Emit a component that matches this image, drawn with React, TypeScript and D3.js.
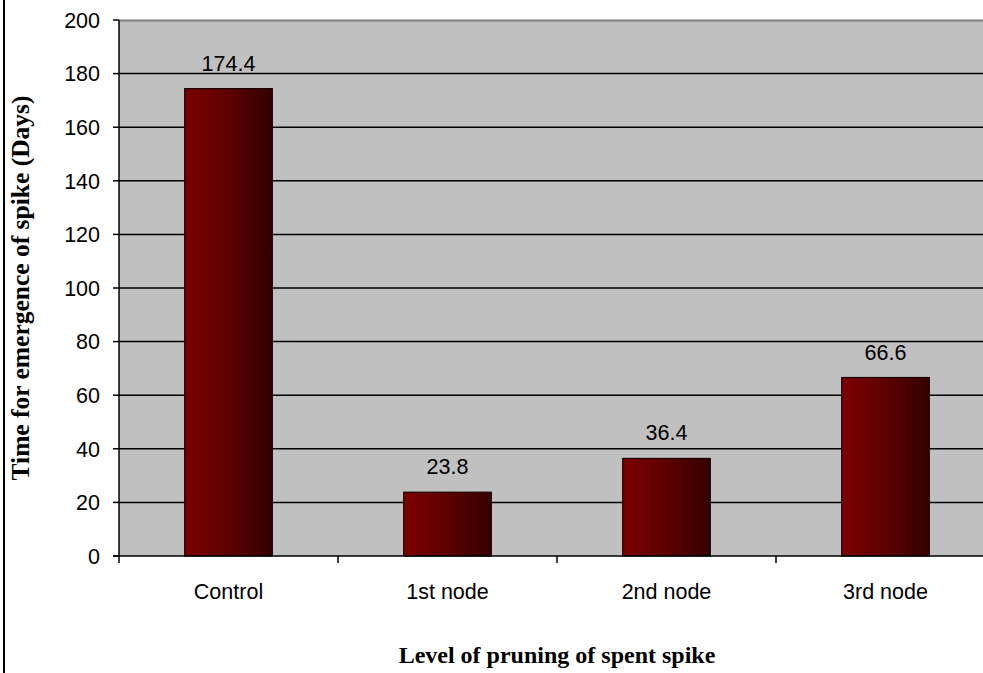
import React from "react";
import * as d3 from "d3";

const categories = ["Control", "1st node", "2nd node", "3rd node"];
const values = [174.4, 23.8, 36.4, 66.6];
const yTicks = [0, 20, 40, 60, 80, 100, 120, 140, 160, 180, 200];
const yTitle = "Time for emergence of spike (Days)";
const xTitle = "Level of pruning of spent spike";

const W = 983;
const H = 673;
const plot = { left: 119, right: 995, top: 20, bottom: 556 };

export default function App() {
  const x = d3
    .scaleBand<string>()
    .domain(categories)
    .range([plot.left, plot.right])
    .paddingInner(0.6)
    .paddingOuter(0.3);
  const band = d3.scaleBand<string>().domain(categories).range([plot.left, plot.right]);
  const y = d3.scaleLinear().domain([0, 200]).range([plot.bottom, plot.top]);

  const sans = "Arial, 'Liberation Sans', sans-serif";
  const serif = "'Times New Roman', 'Liberation Serif', serif";
  const plotMidX = (plot.left + plot.right) / 2;
  const plotMidY = (plot.top + plot.bottom) / 2;

  return (
    <svg
      width={W}
      height={H}
      style={{ position: "absolute", left: 0, top: 0, background: "#fff" }}
    >
      <defs>
        <linearGradient id="barFill" x1="0" x2="1" y1="0" y2="0">
          <stop offset="0" stopColor="#7c0000" />
          <stop offset="0.5" stopColor="#5e0000" />
          <stop offset="1" stopColor="#340000" />
        </linearGradient>
      </defs>

      {/* outer frame edge */}
      <line x1={4} x2={4} y1={0} y2={H} stroke="#000" strokeWidth={2} />

      {/* plot background */}
      <rect
        x={plot.left}
        y={plot.top}
        width={plot.right - plot.left}
        height={plot.bottom - plot.top}
        fill="#c0c0c0"
      />
      <line x1={plot.left} x2={plot.right} y1={plot.top + 0.5} y2={plot.top + 0.5} stroke="#808080" strokeWidth={2} />

      {/* gridlines */}
      {yTicks
        .filter((t) => t > 0 && t < 200)
        .map((t) => (
          <line key={t} x1={plot.left} x2={plot.right} y1={y(t)} y2={y(t)} stroke="#000" strokeWidth={1.5} />
        ))}

      {/* bars */}
      {categories.map((c, i) => (
        <g key={c}>
          <rect
            x={x(c)}
            y={y(values[i])}
            width={x.bandwidth()}
            height={y(0) - y(values[i])}
            fill="url(#barFill)"
            stroke="#1a0000"
            strokeWidth={1.2}
          />
          <text
            x={(x(c) as number) + x.bandwidth() / 2}
            y={y(values[i]) - 18}
            textAnchor="middle"
            fontFamily={sans}
            fontSize={21.5}
            fill="#000"
          >
            {values[i].toFixed(1)}
          </text>
        </g>
      ))}

      {/* axes */}
      <line x1={plot.left} x2={plot.left} y1={plot.top} y2={plot.bottom} stroke="#000" strokeWidth={1.5} />
      <line x1={plot.left - 6} x2={plot.right} y1={plot.bottom} y2={plot.bottom} stroke="#000" strokeWidth={1.5} />
      {yTicks.map((t) => (
        <g key={t}>
          <line x1={plot.left - 6} x2={plot.left} y1={y(t)} y2={y(t)} stroke="#000" strokeWidth={1.5} />
          <text
            x={100}
            y={y(t)}
            dy="0.36em"
            textAnchor="end"
            fontFamily={sans}
            fontSize={21.5}
            fill="#000"
          >
            {t}
          </text>
        </g>
      ))}
      {categories.map((c) => (
        <line
          key={c}
          x1={band(c)}
          x2={band(c)}
          y1={plot.bottom}
          y2={plot.bottom + 7}
          stroke="#000"
          strokeWidth={1.5}
        />
      ))}
      {categories.map((c) => (
        <text
          key={c}
          x={(band(c) as number) + band.bandwidth() / 2}
          y={599}
          textAnchor="middle"
          fontFamily={sans}
          fontSize={21.5}
          fill="#000"
        >
          {c}
        </text>
      ))}

      {/* axis titles */}
      <text
        x={plotMidX}
        y={663}
        textAnchor="middle"
        fontFamily={serif}
        fontWeight="bold"
        fontSize={24}
        fill="#000"
      >
        {xTitle}
      </text>
      <text
        transform={`translate(29, ${plotMidY}) rotate(-90)`}
        textAnchor="middle"
        fontFamily={serif}
        fontWeight="bold"
        fontSize={25.5}
        fill="#000"
      >
        {yTitle}
      </text>
    </svg>
  );
}
